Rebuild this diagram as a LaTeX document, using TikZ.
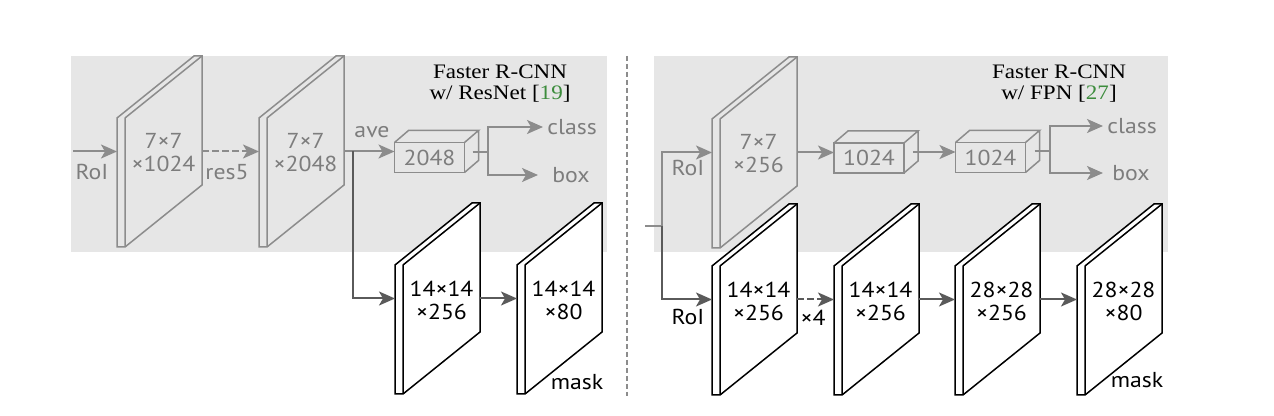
\documentclass[tikz,border=0pt]{standalone}
\usepackage{fontspec}
\usetikzlibrary{arrows.meta,positioning,calc}
\newfontfamily\lblfont[FakeStretch=1.1]{PT Sans}
\newfontfamily\ttlfont[FakeStretch=1.12]{Liberation Serif}
\definecolor{panelgray}{RGB}{230,230,230}
\definecolor{linegray}{RGB}{140,140,140}
\definecolor{txtgray}{RGB}{125,125,125}
\definecolor{darkgray}{RGB}{90,90,90}
\definecolor{citegreen}{RGB}{60,140,60}
\tikzset{
  panel/.style={fill=panelgray,draw=none},
  gplate/.style={draw=linegray,line width=0.75pt},
  wplate/.style={draw=black,fill=white,line width=0.75pt},
  slabbox/.style={minimum width=42.5pt,minimum height=95.5pt,inner sep=0pt,outer sep=0pt},
  gtxt/.style={text=txtgray,font=\fontsize{10.8}{11.5}\lblfont,align=center},
  ktxt/.style={text=black,font=\fontsize{10.8}{11.5}\lblfont,align=center},
  cube/.style={draw=linegray,line width=0.75pt,minimum width=35pt,minimum height=15pt,inner sep=0pt,outer sep=0pt,gtxt},
  cubeline/.style={draw=linegray,line width=0.75pt},
  ttl/.style={font=\fontsize{10.3}{10.5}\ttlfont,align=center},
  gline/.style={linegray,line width=1pt},
  garr/.style={-{Stealth[length=8pt,width=7pt,inset=2pt]},linegray,line width=1pt},
  darr/.style={-{Stealth[length=8pt,width=7pt,inset=2pt]},darkgray,line width=1pt},
  dsh/.style={dash pattern=on 3.5pt off 1.5pt}
}
% name, x, top, plate style, text style, text
\newcommand\plate[6]{%
  \node[slabbox] (#1) at ({#2+42.5},{#3+33.5}) {};
  \path[#4] (#2,#3) -- ++(77,-62) -- ++(8,0) -- ++(0,129) -- ++(-77,62) -- ++(-8,0) -- cycle;
  \path[#4] (#2+8,#3) -- ++(77,-62) (#2+8,#3) -- ++(0,129);
  \node[#5] at ({#2+46.5},{#3+35}) {#6};
}
% name, x, y, text
\newcommand\cuboid[4]{%
  \node[cube] (#1) at (#2,#3) {#4};
  \draw[cubeline] (#1.north west) -- ++(14,-12) -- ([shift={(14,-12)}]#1.north east) -- (#1.north east)
    ([shift={(14,-12)}]#1.north east) -- ([shift={(14,-12)}]#1.south east) -- (#1.south east);
}
\begin{document}
\begin{tikzpicture}[x=0.5pt,y=-0.5pt]
  \useasboundingbox (0,0) rectangle (1274,416);
  \fill[panel] (71,56) rectangle (607,252);
  \fill[panel] (654,56) rectangle (1168,252);
  \coordinate (divtop) at (627,56);
  \coordinate (divbot) at (627,396);
  \draw[linegray,line width=0.6pt,dash pattern=on 2.5pt off 1.5pt] (divtop) -- (divbot);

  \node[ttl] (ttl1) at (500,84) {Faster R-CNN\\w/ ResNet [\textcolor{citegreen}{19}]};
  \node[ttl] (ttl2) at (1059,84) {Faster R-CNN\\w/ FPN [\textcolor{citegreen}{27}]};

  \plate{p1}{117}{118}{gplate}{gtxt}{7×7\\×1024}
  \plate{p2}{259}{118}{gplate}{gtxt}{7×7\\×2048}
  \plate{q1}{712}{119}{gplate}{gtxt}{7×7\\×256}
  \plate{m1}{395}{265}{wplate}{ktxt}{14×14\\×256}
  \plate{m2}{517}{265}{wplate}{ktxt}{14×14\\×80}
  \plate{r1}{712}{266}{wplate}{ktxt}{14×14\\×256}
  \plate{r2}{834}{266}{wplate}{ktxt}{14×14\\×256}
  \plate{r3}{955}{266}{wplate}{ktxt}{28×28\\×256}
  \plate{r4}{1077}{266}{wplate}{ktxt}{28×28\\×80}

  \cuboid{box1}{429.5}{157.5}{2048}
  \cuboid{c1}{869}{158}{1024}
  \cuboid{c2}{990.5}{157.5}{1024}

  \node[gtxt] (roiL) at (92,172) {RoI};
  \node[gtxt] (res5) at (227,172) {res5};
  \node[gtxt] (ave) at (372,132) {ave};
  \node[gtxt,anchor=west,inner sep=2pt] (cls1) at (543,127) {class};
  \node[gtxt,anchor=west,inner xsep=7pt] (bx1) at (538,175) {box};
  \node[gtxt] (roiq) at (688,168) {RoI};
  \node[gtxt,anchor=west,inner sep=2pt] (cls2) at (1103,126) {class};
  \node[gtxt,anchor=west,inner xsep=4.5pt] (bx2) at (1103,173) {box};
  \node[ktxt] (roir) at (688,317) {RoI};
  \node[ktxt] (x4) at (813,318) {×4};
  \node[ktxt] (mask1) at (577,382) {mask};
  \node[ktxt] (mask2) at (1137,380) {mask};

  \coordinate (inL) at (73,151.5);
  \draw[garr] (inL) -- (p1.west);
  \draw[garr,dsh] (p1.east) -- (p2.west);
  \draw[garr] (p2.east) -- (p2.east -| box1.west);
  \draw[darr] ([xshift=4.5pt]p2.east) |- (m1.west);
  \draw[darr] (m1.east) -- (m2.west);
  \draw[gline] ([shift={(8,-5)}]box1.east) -- ++(15,0) coordinate (j1);
  \draw[garr] (j1) |- (cls1.west);
  \draw[garr] (j1) |- (bx1.west);

  \coordinate (inR) at (645,226);
  \coordinate (jR) at (662,226);
  \draw[gline] (inR) -- (jR);
  \draw[garr] (jR) |- (q1.west);
  \draw[darr] (jR) |- (r1.west);
  \draw[garr] (q1.east) -- (q1.east -| c1.west);
  \coordinate (c1o) at ([shift={(9,-6)}]c1.east);
  \draw[garr] (c1o) -- (c1o -| c2.west);
  \draw[gline] ([shift={(9,-6)}]c2.east) -- ++(15,0) coordinate (j2);
  \draw[garr] (j2) |- (cls2.west);
  \draw[garr] (j2) |- (bx2.west);
  \draw[darr,dsh] (r1.east) -- (r2.west);
  \draw[darr] (r2.east) -- (r3.west);
  \draw[darr] (r3.east) -- (r4.west);
\end{tikzpicture}
\end{document}
